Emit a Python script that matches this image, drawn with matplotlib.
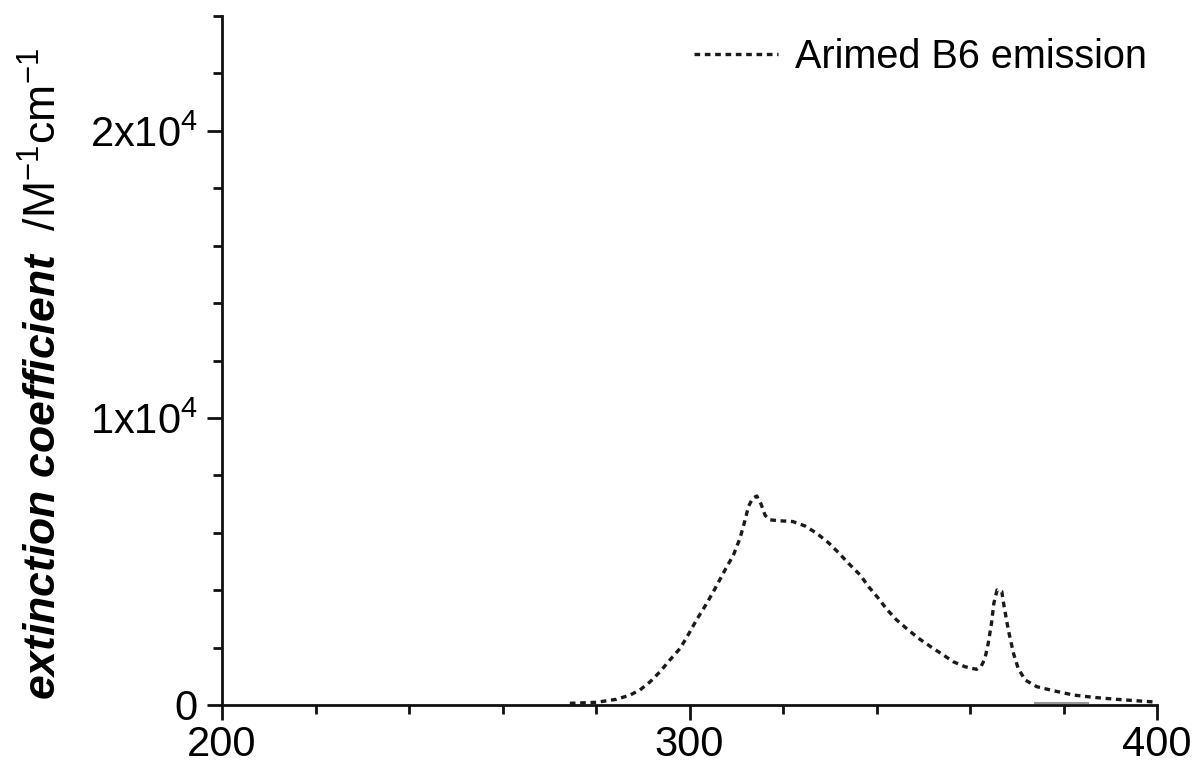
import matplotlib
matplotlib.use("Agg")
import matplotlib.pyplot as plt
from matplotlib.ticker import MultipleLocator, FixedLocator, FixedFormatter

plt.rcParams['font.family'] = ['Liberation Sans', 'DejaVu Sans']
plt.rcParams['mathtext.fontset'] = 'custom'
plt.rcParams['mathtext.rm'] = 'Liberation Sans'
plt.rcParams['mathtext.it'] = 'Liberation Sans:italic'
plt.rcParams['mathtext.bf'] = 'Liberation Sans:bold:italic'

# emission spectrum (nm, M^-1 cm^-1)
wavelength = [274.4, 280.1, 284.4, 287.3, 289.4, 291.6, 293.7, 295.8, 298.0, 299.7,
              301.5, 303.7, 305.5, 307.6, 309.4, 310.8, 311.9, 312.6, 313.5, 314.4,
              315.3, 316.2, 317.2, 319.0, 322.1, 324.7, 327.2, 329.7, 331.8, 334.0,
              336.5, 338.3, 340.4, 342.2, 344.3, 346.8, 349.3, 351.8, 354.3, 356.4,
              358.9, 361.4, 362.4, 363.2, 363.9, 364.6, 365.1, 365.8, 366.8, 367.3,
              368.2, 369.3, 370.3, 371.8, 374.3, 377.8, 382.1, 386.4, 391.4, 396.4,
              399.6]
emission = [59, 94, 199, 348, 523, 813, 1161, 1568, 1974, 2439,
            2962, 3543, 4065, 4704, 5226, 5807, 6446, 6910, 7201, 7280,
            7000, 6600, 6450, 6420, 6390, 6237, 5982, 5656, 5319, 4936,
            4530, 4123, 3717, 3333, 2962, 2613, 2288, 2009, 1742, 1509,
            1335, 1243, 1350, 1625, 2148, 2846, 3543, 4007, 3949, 3426,
            2613, 1800, 1277, 871, 638, 499, 348, 267, 197, 139,
            104]

# faint grey trace visible near the baseline
grey_x = [374.0, 385.2]
grey_y = [70, 70]

y_ticks = [0, 10000, 20000]
y_labels = ['0', '1x10$^4$', '2x10$^4$']
x_ticks = [200, 300, 400]

fig = plt.figure(figsize=(11.96, 7.64), dpi=100)
ax = fig.add_axes([222 / 1196, 59 / 764, 935 / 1196, 689 / 764])

ax.plot(grey_x, grey_y, color='#9a9a9a', lw=1.5)
ax.plot(wavelength, emission, color='#1a1a1a', lw=2.4,
        linestyle=(0, (1.7, 1.4)), label='Arimed B6 emission')

ax.set_xlim(200, 400)
ax.set_ylim(0, 24000)

for s in ['top', 'right']:
    ax.spines[s].set_visible(False)
for s in ['left', 'bottom']:
    ax.spines[s].set_linewidth(2.0)
    ax.spines[s].set_color('#111111')

ax.xaxis.set_major_locator(FixedLocator(x_ticks))
ax.xaxis.set_minor_locator(MultipleLocator(20))
ax.yaxis.set_major_locator(FixedLocator(y_ticks))
ax.yaxis.set_major_formatter(FixedFormatter(y_labels))
ax.yaxis.set_minor_locator(MultipleLocator(2000))

ax.tick_params(which='major', direction='out', length=10.5, width=2.0,
               color='#111111', labelsize=30)
ax.tick_params(which='minor', direction='out', length=6.5, width=2.0,
               color='#111111')
ax.tick_params(axis='x', which='major', pad=4)
ax.tick_params(axis='y', which='major', pad=7)

ax.set_ylabel(r'$\mathbf{extinction\ coefficient}$  /M$^{-1}$cm$^{-1}$',
              fontsize=32)
ax.yaxis.set_label_coords(-0.167, 0.48)

leg = ax.legend(loc='upper right', bbox_to_anchor=(1.013, 1.0), frameon=False,
                fontsize=28.5, handlelength=2.1, handletextpad=0.45,
                borderaxespad=0, borderpad=0.55)

plt.savefig('out.png', dpi=100)
